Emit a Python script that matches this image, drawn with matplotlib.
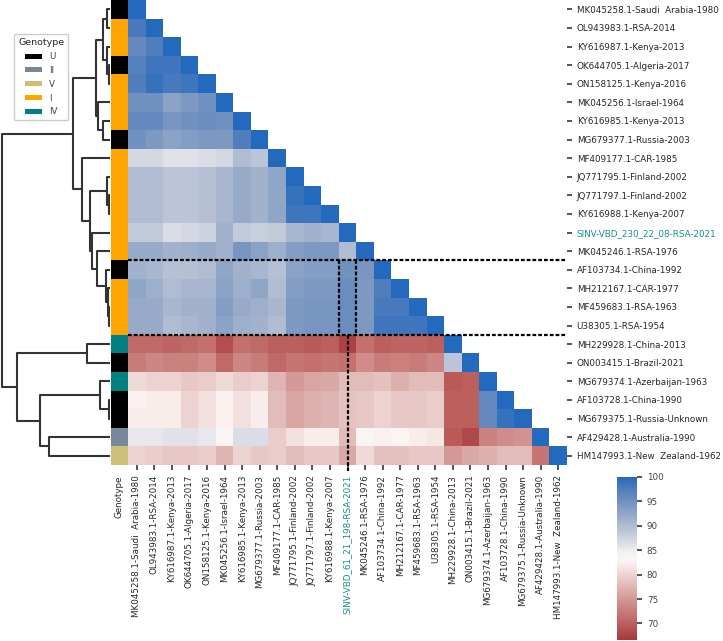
import numpy as np
import matplotlib
matplotlib.use('Agg')
import matplotlib.pyplot as plt
from matplotlib.patches import Patch
import seaborn as sns

# Sample names (row labels on the right, column labels at the bottom)
ROW_LABELS = [
    'MK045258.1-Saudi  Arabia-1980', 'OL943983.1-RSA-2014', 'KY616987.1-Kenya-2013',
    'OK644705.1-Algeria-2017', 'ON158125.1-Kenya-2016', 'MK045256.1-Israel-1964',
    'KY616985.1-Kenya-2013', 'MG679377.1-Russia-2003', 'MF409177.1-CAR-1985',
    'JQ771795.1-Finland-2002', 'JQ771797.1-Finland-2002', 'KY616988.1-Kenya-2007',
    'SINV-VBD_230_22_08-RSA-2021', 'MK045246.1-RSA-1976', 'AF103734.1-China-1992',
    'MH212167.1-CAR-1977', 'MF459683.1-RSA-1963', 'U38305.1-RSA-1954',
    'MH229928.1-China-2013', 'ON003415.1-Brazil-2021', 'MG679374.1-Azerbaijan-1963',
    'AF103728.1-China-1990', 'MG679375.1-Russia-Unknown', 'AF429428.1-Australia-1990',
    'HM147993.1-New  Zealand-1962',
]
COL_LABELS = ROW_LABELS[:12] + ['SINV-VBD_61_21_198-RSA-2021'] + ROW_LABELS[13:]
QUERY_ROW = 'SINV-VBD_230_22_08-RSA-2021'
QUERY_COL = 'SINV-VBD_61_21_198-RSA-2021'
BOX_ROWS = ('AF103734.1-China-1992', 'U38305.1-RSA-1954')

GENOTYPE = ['U', 'I', 'I', 'U', 'I', 'I', 'I', 'U', 'I', 'I', 'I', 'I', 'I', 'I',
            'U', 'I', 'I', 'I', 'IV', 'U', 'IV', 'U', 'U', 'II', 'V']
GENOTYPE_COLORS = {'U': 'black', 'II': '#778899', 'V': '#cdbe78', 'I': '#ffa500', 'IV': '#008080'}
LEGEND_ORDER = ['U', 'II', 'V', 'I', 'IV']

# pairwise identity (%), lower triangle, row by row
IDENTITY = [
    [100],
    [98, 100],
    [96, 97.5, 100],
    [97, 98.5, 98.5, 100],
    [97.5, 99, 98, 98.5, 100],
    [95, 95, 93, 94, 95, 100],
    [96, 96, 94.5, 95, 95.5, 95, 100],
    [95, 94, 93, 93.5, 94, 94, 97.5, 100],
    [87, 87, 86, 86, 86.5, 87, 90, 89, 100],
    [90, 90, 89, 89, 89.5, 90.5, 92, 91, 92.5, 100],
    [90, 90, 89, 89, 89.5, 90.5, 92, 91, 92.5, 99, 100],
    [90, 90, 89, 89, 89.5, 90.5, 92, 91, 92.5, 98.5, 98.5, 100],
    [88.5, 88.5, 86.5, 87, 87.5, 91, 88.5, 88, 88.5, 90.5, 91, 90.5, 100],
    [92, 92, 91, 91.5, 92, 91, 94.5, 93, 91.5, 93.5, 94, 94, 90, 100],
    [91, 90.5, 89.5, 89.5, 90, 92.5, 91, 90.5, 89.5, 93, 93.5, 93.5, 95, 94.5, 100],
    [92.5, 91.5, 90, 90.5, 90.5, 93, 91.5, 92.5, 90, 93.5, 94, 94, 95.5, 94, 97.5, 100],
    [92, 92, 90.5, 91, 91, 93.5, 92, 91.5, 90.5, 94, 94.5, 94.5, 95.5, 94, 98, 98, 100],
    [92, 92, 90, 90.5, 91, 93, 91.5, 91, 90, 94, 94.5, 94.5, 95.5, 94, 98.5, 98.5, 98.5, 100],
    [71, 71, 70.5, 71, 71.5, 68.5, 71.5, 71, 70, 70, 69.5, 70, 67.5, 71.5, 70, 70.5, 70.5, 70, 100],
    [72.5, 73.5, 73, 73, 74, 71, 73.5, 72.5, 71, 72, 71.5, 72, 71.5, 74, 72.5, 73, 72.5, 73.5, 89, 100],
    [80.5, 80, 80, 79, 79.5, 80.5, 79.5, 80, 77.5, 75, 76, 76.5, 78, 78, 78.5, 77, 78, 78, 69.5, 70, 100],
    [82.5, 82, 82, 80, 81, 82.5, 81, 82, 78, 76, 77, 77.5, 78.5, 79, 80, 79, 79, 79.5, 70, 70, 96, 100],
    [82, 82, 82, 80, 81, 82.5, 81, 82, 78, 76, 77, 77.5, 78.5, 79, 80, 79, 79, 79.5, 70, 70, 96, 99, 100],
    [85.5, 85.5, 86, 86, 85.5, 83.5, 86.5, 86.5, 79.5, 81, 82, 82, 78, 83.5, 82.5, 83, 82, 81.5, 69.5, 68, 73, 74, 74.5, 100],
    [80, 79.5, 79, 79, 79.5, 77.5, 80, 79, 79.5, 78, 79, 79, 76.5, 80.5, 78.5, 78.5, 79, 79, 75, 76.5, 77, 78, 78, 72, 100],
]

# row dendrogram, scipy-like linkage: (child a, child b, height); ids >= 25 are earlier merges
MERGES = [
    (3, 4, 0.7), (2, 25, 2.7), (0, 1, 3.3), (27, 26, 6.7),          # 25-28
    (6, 7, 6.7), (5, 29, 11.7), (28, 30, 14),                         # 29-31
    (10, 11, 0.7), (9, 32, 3.3), (16, 17, 0.7), (15, 34, 1.7),        # 32-35
    (14, 35, 4), (13, 36, 13.3), (12, 37, 18.3), (33, 38, 20),        # 36-39
    (8, 39, 27.7), (31, 40, 36.7),                                    # 40-41
    (21, 22, 0.7), (20, 42, 10), (18, 19, 22.7), (23, 24, 60.7),      # 42-45
    (43, 45, 70), (44, 46, 92.7), (41, 47, 108.3),                    # 46-48
]

VMIN, VMAX = 66.6, 100
TEXT = '#262626'

plt.rcParams['font.family'] = ['DejaVu Sans']
plt.rcParams['text.color'] = TEXT
plt.rcParams['xtick.color'] = TEXT
plt.rcParams['ytick.color'] = TEXT


def draw_dendrogram(ax, merges, n):
    ypos = {i: i + 0.5 for i in range(n)}
    hpos = {i: 0.0 for i in range(n)}
    for k, (a, b, h) in enumerate(merges):
        ax.plot([hpos[a], h, h, hpos[b]], [ypos[a], ypos[a], ypos[b], ypos[b]],
                color='#333333', lw=1.5, solid_capstyle='butt')
        ypos[n + k] = (ypos[a] + ypos[b]) / 2
        hpos[n + k] = h


n = len(ROW_LABELS)
mat = np.full((n, n), np.nan)
for i, row in enumerate(IDENTITY):
    mat[i, :len(row)] = row

W, H = 723, 641
fig = plt.figure(figsize=(W / 100, H / 100), dpi=100)


def px_axes(x0, y0, x1, y1):
    return fig.add_axes([x0 / W, 1 - y1 / H, (x1 - x0) / W, (y1 - y0) / H])


ax_den = px_axes(0, 0, 110, 465)
ax_rc = px_axes(111, 0, 128, 465)
ax = px_axes(128, 0, 567, 465)
cax = px_axes(617, 477, 637, 640)

# dendrogram
draw_dendrogram(ax_den, MERGES, n)
ax_den.set_xlim(110, 0)
ax_den.set_ylim(n, 0)
ax_den.axis('off')

# genotype colour strip
strip = np.array([[matplotlib.colors.to_rgb(GENOTYPE_COLORS[g])] for g in GENOTYPE])
ax_rc.imshow(strip, aspect='auto', extent=(0, 1, n, 0), interpolation='nearest')
ax_rc.set_xlim(0, 1)
ax_rc.set_ylim(n, 0)
ax_rc.set_yticks([])
ax_rc.set_xticks([0.5])
ax_rc.set_xticklabels(['Genotype'], rotation=90, fontsize=6.3)
ax_rc.tick_params(axis='x', length=0, pad=8)
for s in ax_rc.spines.values():
    s.set_visible(False)

# heatmap
cmap = sns.color_palette('vlag_r', as_cmap=True)
mesh = ax.pcolormesh(np.ma.masked_invalid(mat), cmap=cmap, vmin=VMIN, vmax=VMAX)
ax.set_xlim(0, n)
ax.set_ylim(n, 0)
for s in ax.spines.values():
    s.set_visible(False)
ax.set_xticks(np.arange(n) + 0.5)
ax.set_xticklabels(COL_LABELS, rotation=90, fontsize=6.3)
ax.yaxis.tick_right()
ax.set_yticks(np.arange(n) + 0.5)
ax.set_yticklabels(ROW_LABELS, fontsize=6.3)
ax.tick_params(width=1.1, length=3.5)
for t in ax.get_yticklabels():
    if t.get_text() == QUERY_ROW:
        t.set_color('#138f88')
for t in ax.get_xticklabels():
    if t.get_text() == QUERY_COL:
        t.set_color('#138f88')

# highlight lines around the query column
r0 = ROW_LABELS.index(BOX_ROWS[0])
r1 = ROW_LABELS.index(BOX_ROWS[1]) + 1
qc = COL_LABELS.index(QUERY_COL)
dash = dict(color='black', lw=1.6, linestyle=(0, (1.7, 0.9)), clip_on=False)
ax.plot([0, n], [r0, r0], **dash)
ax.plot([0, n], [r1, r1], **dash)
ax.plot([qc, qc], [r0, r1], **dash)
ax.plot([qc + 1, qc + 1], [r0, r1], **dash)
ax.plot([qc + 0.5, qc + 0.5], [r1, n + 0.3], **dash)

# colorbar
cb = fig.colorbar(mesh, cax=cax)
cb.outline.set_visible(False)
cb.set_ticks([70, 75, 80, 85, 90, 95, 100])
cax.tick_params(labelsize=6.3, width=1.1, length=3.5, labelcolor='#444444')

# legend
handles = [Patch(facecolor=GENOTYPE_COLORS[g], label=g) for g in LEGEND_ORDER]
leg = fig.legend(handles=handles, title='Genotype', loc='upper left',
                 bbox_to_anchor=(10 / W, 1 - 30 / H), fontsize=6.3, title_fontsize=6.8,
                 handlelength=2.0, handleheight=0.5, labelspacing=0.55,
                 borderpad=0.45, handletextpad=0.8, framealpha=1, edgecolor='#cccccc')
for t in leg.get_texts():
    t.set_color('#444444')

fig.savefig('out.png', dpi=100)
